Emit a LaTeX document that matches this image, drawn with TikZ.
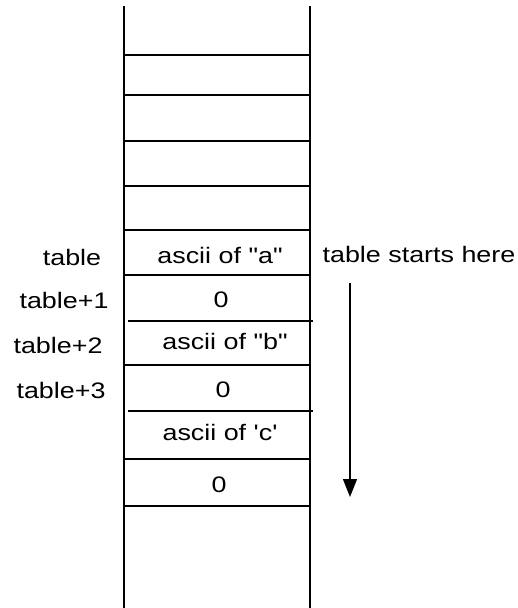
\documentclass[tikz,border=0pt]{standalone}
\usepackage{fontspec}
\setmainfont[FakeStretch=1.2,Ligatures=TeXOff]{Liberation Sans}
\usetikzlibrary{arrows.meta}
\begin{document}
\begin{tikzpicture}[x=1pt,y=-1pt,
  wall/.style={line width=1.4pt},
  row/.style={line width=1.3pt},
  lbl/.style={inner sep=0pt,anchor=base,font=\fontsize{22.4}{26}\selectfont},
  flow/.style={line width=1.4pt,-{Triangle[length=18pt,width=14pt]}}]
\useasboundingbox (0,0) rectangle (518,608);
% walls
\coordinate (lt) at (124,6); \coordinate (lb) at (124,608);
\coordinate (rt) at (310,6); \coordinate (rb) at (310,608);
\draw[wall] (lt) -- (lb);
\draw[wall] (rt) -- (rb);
% rows
\foreach \y in {55,95,141,186,230,275,365,459,506}{
  \draw[row] (124,\y) -- (310,\y);
}
\foreach \y in {321,411}{
  \draw[row] (128,\y) -- (313,\y);
}
% cell contents
\node[lbl] (ca) at (220,263) {ascii of "a"};
\node[lbl] (c1) at (221,307) {0};
\node[lbl] (cb) at (225,349) {ascii of "b"};
\node[lbl] (c3) at (223,397) {0};
\node[lbl] (cc) at (220,440) {ascii of 'c'};
\node[lbl] (c5) at (219,492) {0};
% address labels
\node[lbl] (t0) at (72,265) {table};
\node[lbl] (t1) at (64,308) {table+1};
\node[lbl] (t2) at (58,353) {table+2};
\node[lbl] (t3) at (61,398) {table+3};
\node[lbl] (ts) at (419,262) {table starts here};
% arrow
\coordinate (as) at (350,283);
\coordinate (ae) at (350,497);
\draw[flow] (as) -- (ae);
\end{tikzpicture}
\end{document}
